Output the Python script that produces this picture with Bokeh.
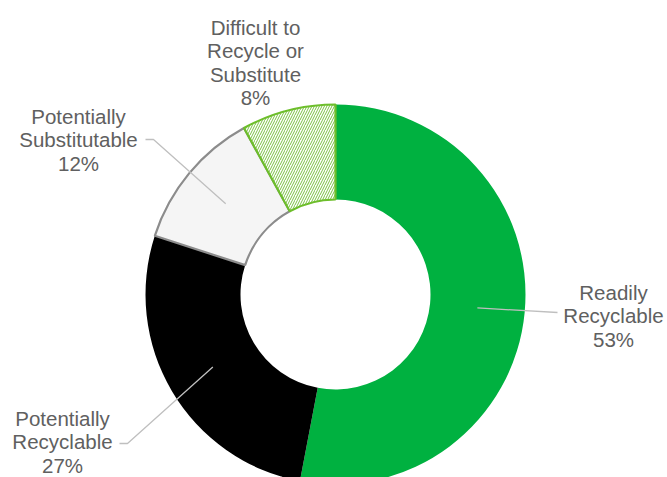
from bokeh.plotting import figure
from bokeh.models import Range1d, ColumnDataSource
from bokeh.embed import file_html
from bokeh.resources import INLINE
from bokeh.core.properties import value
import math

# ---- data ----
labels = ["Readily\nRecyclable", "Potentially\nRecyclable", "Potentially\nSubstitutable", "Difficult to\nRecycle or\nSubstitute"]
shares = [53, 27, 12, 8]

# ---- styles / layout ----
W, H = 667, 477
CX, CY = 335, H - 294
R_OUT, R_IN = 190, 95
fills = ["#00B140", "#000000", "#F5F5F5", "#FFFFFF"]
lines = [None, None, "#8C8C8C", "#6DBE2B"]
hatches = [" ", " ", " ", "/"]
label_pos = [(613, 315), (62, 441), (78, 139), (255, 62)]   # screen coords (block centers)
elbows = [(557, 312), (127, 443), (153, 139), None]        # screen coords of leader end
LINE_GAP = 23.5
TEXT_COLOR = "#606060"
LEADER = "#BFBFBF"

p = figure(width=W, height=H, output_backend="svg", toolbar_location=None,
           x_range=Range1d(0, W), y_range=Range1d(0, H), min_border=0,
           outline_line_color=None, background_fill_color="white")
p.axis.visible = False
p.grid.visible = False

total = sum(shares)
start = math.pi / 2
starts, ends, mids = [], [], []
for v in shares:
    a = v / total * 2 * math.pi
    starts.append(start)
    ends.append(start - a)
    mids.append(start - a / 2)
    start -= a

for i in range(len(shares)):
    kw = dict(x=CX, y=CY, inner_radius=R_IN, outer_radius=R_OUT,
              start_angle=starts[i], end_angle=ends[i], direction="clock",
              fill_color=fills[i])
    if lines[i]:
        kw.update(line_color=lines[i], line_width=2.2)
    else:
        kw.update(line_color=None)
    if hatches[i] != " ":
        kw.update(hatch_pattern=hatches[i], hatch_color="#7AC143", hatch_scale=5,
                  hatch_weight=1.0)
    p.annular_wedge(**kw)

# leader lines
rm = (R_IN + R_OUT) / 2
for i in range(len(shares)):
    if elbows[i] is None:
        continue
    ax = CX + rm * math.cos(mids[i])
    ay = CY + rm * math.sin(mids[i])
    ex, ey = elbows[i][0], H - elbows[i][1]
    xs = [ax, ex]
    ys = [ay, ey]
    if ex < CX:
        xs.append(ex - 8)
        ys.append(ey)
    p.line(xs, ys, line_color=LEADER, line_width=1.3)

# labels, one text per line
tx, ty, tt = [], [], []
for (lx, ly), l, v in zip(label_pos, labels, shares):
    parts = l.split("\n") + [f"{v}%"]
    n = len(parts)
    for k, s in enumerate(parts):
        tx.append(lx)
        ty.append(H - (ly + (k - (n - 1) / 2) * LINE_GAP))
        tt.append(s)
src = ColumnDataSource(dict(x=tx, y=ty, t=tt))
p.text(x="x", y="y", text="t", source=src, text_align="center", text_baseline="middle",
       text_font=value("Liberation Sans"), text_font_size="20.5px", text_color=TEXT_COLOR)

open("out.html", "w").write(file_html(p, INLINE))
